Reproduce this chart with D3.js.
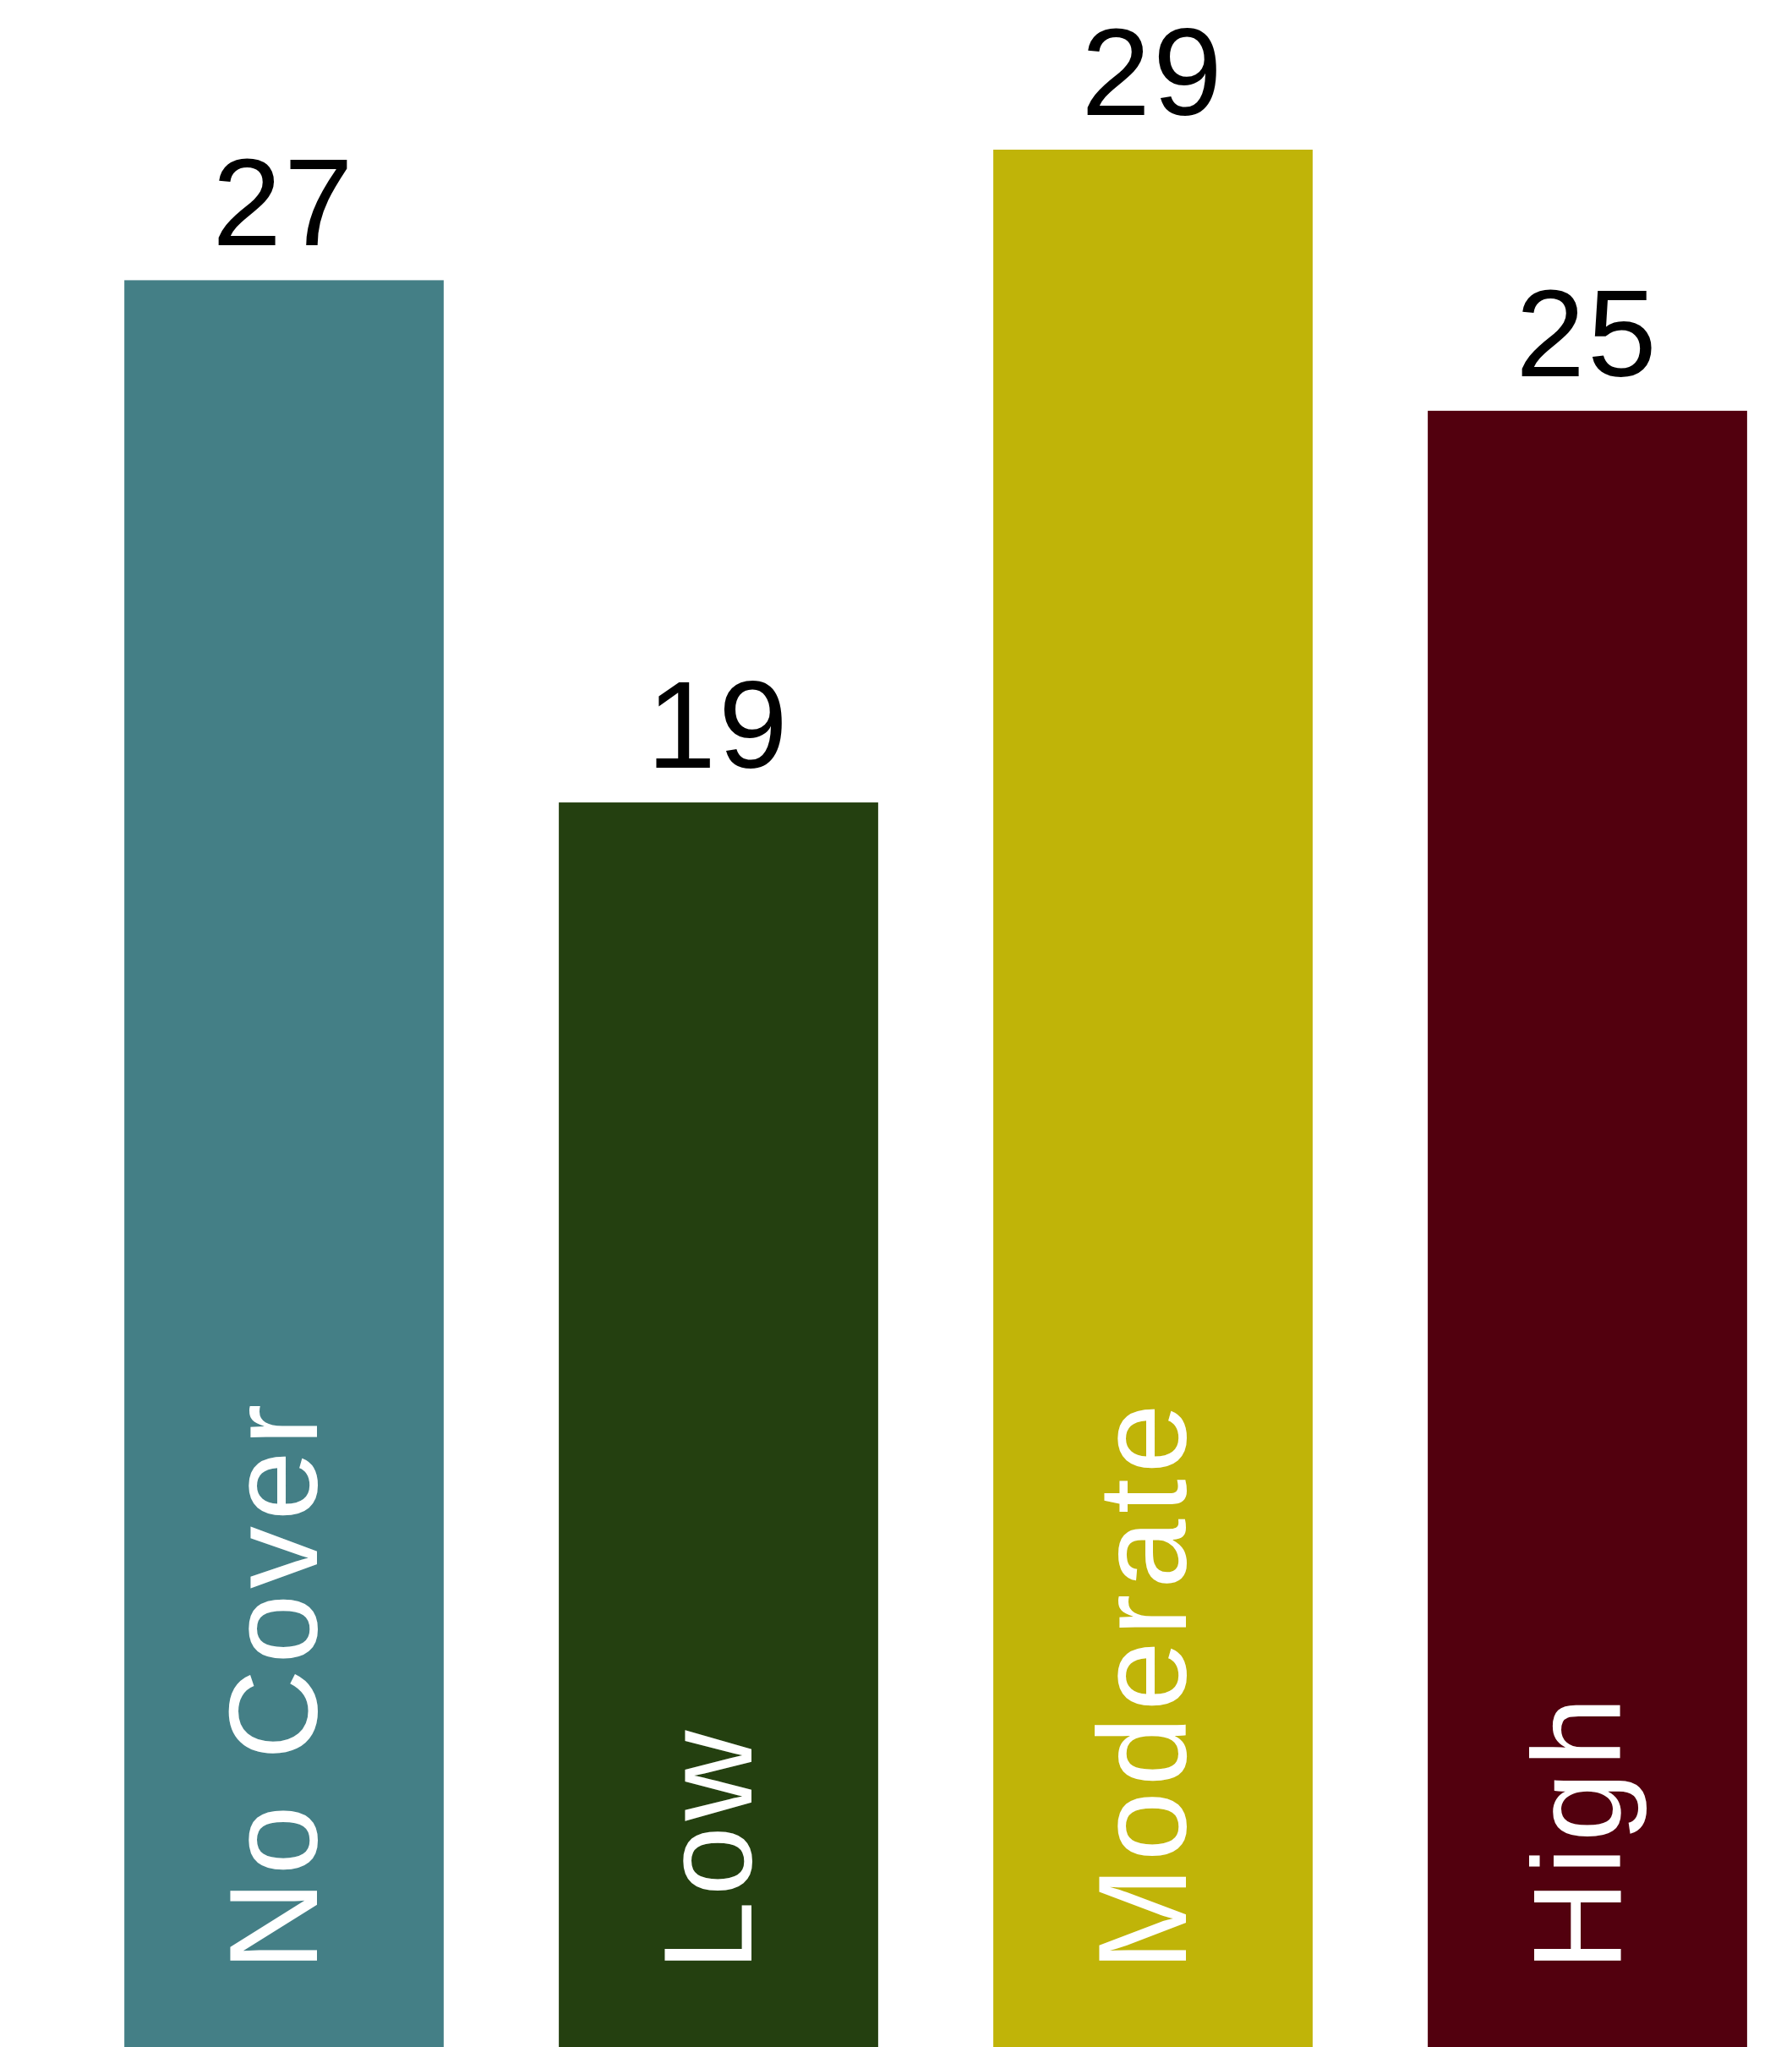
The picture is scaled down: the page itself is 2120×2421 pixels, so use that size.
<!DOCTYPE html>
<html>
<head>
<meta charset="utf-8">
<script src="https://cdn.jsdelivr.net/npm/d3@7"></script>
<style>
  html, body { margin: 0; padding: 0; background: #fff; }
  svg { display: block; }
</style>
</head>
<body>
<svg id="chart"></svg>
<script>
// data
const categories = ['No Cover', 'Low', 'Moderate', 'High'];
const values = [27, 19, 29, 25];
const colors = ['#447f86', '#244010', '#c0b408', '#52000e'];

const w = 2120;
const h = 2421;
const font = '"Liberation Sans", Arial, sans-serif';

const svg = d3.select('#chart')
  .attr('width', w)
  .attr('height', h)
  .style('font-family', font);

// scales
const xScale = d3.scaleBand()
  .domain(categories)
  .range([79, 2135])
  .paddingInner(0.265)
  .paddingOuter(0.1325);

const yScale = d3.scaleLinear()
  .domain([0, d3.max(values)])
  .range([2416, 177]);

const rows = categories.map((c, i) => ({ cat: c, val: values[i], color: colors[i] }));

// bars (run past the bottom edge)
svg.selectAll('.bar')
  .data(rows)
  .join('rect')
  .attr('class', 'bar')
  .attr('x', d => xScale(d.cat))
  .attr('y', d => yScale(d.val))
  .attr('width', xScale.bandwidth())
  .attr('height', d => h - yScale(d.val) + 10)
  .attr('fill', d => d.color);

// value labels above bars
svg.selectAll('.value')
  .data(rows)
  .join('text')
  .attr('class', 'value')
  .attr('x', d => xScale(d.cat) + xScale.bandwidth() / 2)
  .attr('y', d => yScale(d.val) - 41)
  .attr('text-anchor', 'middle')
  .attr('font-size', 147)
  .attr('letter-spacing', 3)
  .attr('fill', '#000')
  .text(d => d.val);

// category names, rotated inside the bars
svg.selectAll('.cat')
  .data(rows)
  .join('text')
  .attr('class', 'cat')
  .attr('transform', d =>
    `translate(${xScale(d.cat) + xScale.bandwidth() / 2 + 38.5},${h - 90}) rotate(-90)`)
  .attr('text-anchor', 'start')
  .attr('font-size', 148)
  .attr('letter-spacing', 6.5)
  .attr('fill', '#fff')
  .text(d => d.cat);
</script>
</body>
</html>
